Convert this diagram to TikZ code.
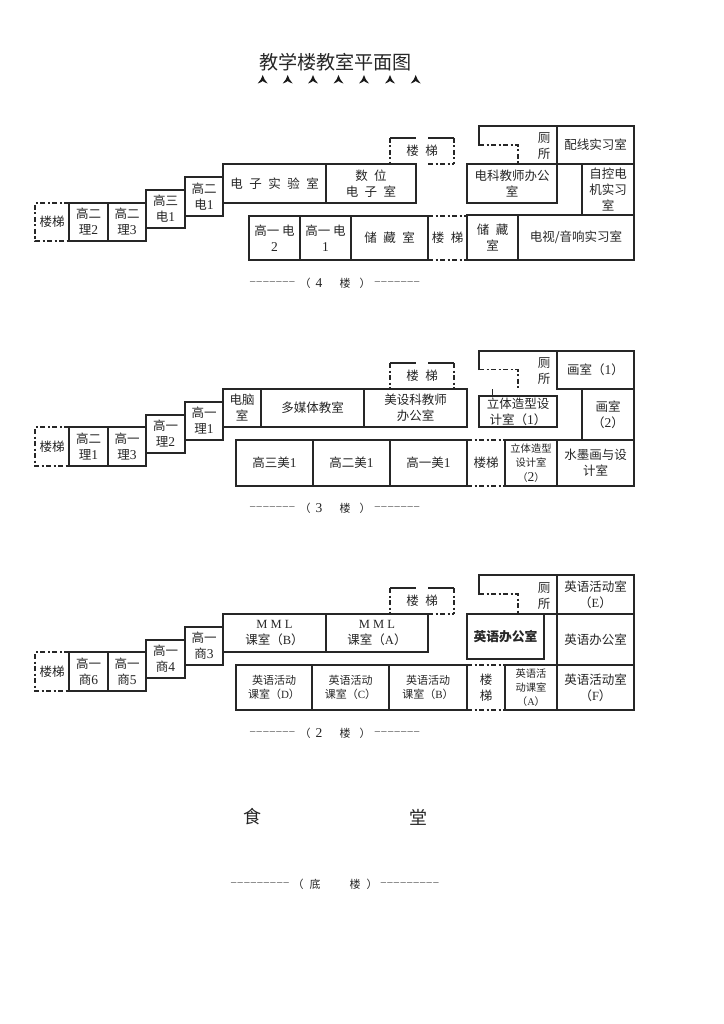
\documentclass[tikz,border=0pt]{standalone}
\usepackage{fontspec}
\setmainfont{Noto Sans CJK SC}
\newfontfamily\lat{Liberation Serif}
\tikzset{
  x=1pt,y=-1pt,
  wall/.style={line width=1.35pt,draw=black!85},
  dashwall/.style={line width=1.35pt,draw=black!85,dash pattern=on 5pt off 2.5pt on 2pt off 2.5pt},
  lab/.style={font=\fontsize{12.5}{16}\selectfont,align=center,inner sep=0pt,text=black!85},
  small/.style={font=\fontsize{11}{14.2}\selectfont,align=center,inner sep=0pt,text=black!85},
  tiny/.style={font=\fontsize{10.3}{14.2}\selectfont,align=center,inner sep=0pt,text=black!85},
  boldlab/.style={font=\fontsize{12.8}{16}\selectfont\bfseries,align=center,inner sep=0pt,text=black!85},
  captext/.style={font=\fontsize{11}{14}\selectfont,inner sep=0pt,text=black!85},
  rulertext/.style={font=\fontsize{10.5}{14}\selectfont\lat,inner sep=0pt,text=black!80}
}
\newcommand{\gp}{\hspace{6.5pt}}
\newcommand{\dg}[1]{{\fontsize{13.5}{16}\selectfont\lat #1}}
\newcommand{\dr}{–\kern1.3pt}
% optional style, name, x1, y1, x2, y2, text
\newcommand{\room}[7][lab]{%
  \draw[wall] (#3,#4) rectangle (#5,#6);
  \node[#1] (#2) at ({(#3+#5)/2},{(#4+#6)/2}) {#7};}
\newcommand{\tagtext}[4][lab]{\node[#1] (#2) at (#3) {#4};}
\newcommand{\chev}[1]{\fill[black!90] (#1,75) .. controls (#1+0.8,78) and (#1+2.5,81) .. (#1+5,83.5) .. controls (#1+3,82.8) and (#1+1,82) .. (#1,81) .. controls (#1-1,82) and (#1-3,82.8) .. (#1-5,83.5) .. controls (#1-2.5,81) and (#1-0.8,78) .. (#1,75) -- cycle;}
\newcommand{\floorcap}[3]{%
  \node[rulertext,anchor=west] (#1a) at (250,#2) {\dr\dr\dr\dr\dr\dr\dr};
  \node[captext] (#1b) at (305,#2) {（};
  \node[captext] (#1c) at (319,#2) {\dg{#3}};
  \node[captext] (#1d) at (345,#2) {楼};
  \node[captext] (#1e) at (365,#2) {）};
  \node[rulertext,anchor=east] (#1f) at (421,#2) {\dr\dr\dr\dr\dr\dr\dr};}
\begin{document}
\begin{tikzpicture}
\useasboundingbox (0,0) rectangle (723,1024);
\fill[white] (0,0) rectangle (723,1024);
% title
\node[font=\fontsize{19.1}{20}\selectfont,inner sep=0pt,text=black!85] (title) at (335.5,62.5) {教学楼教室平面图};
\foreach \m in {262.7,287.7,313,338.5,364,390,415.7} {\chev{\m}}

% ================= 4F
\draw[dashwall] (69,203) -- (35,203) -- (35,241) -- (69,241);
\tagtext{s4a}{52,222}{楼梯}
\room{a1}{69}{203}{108}{241}{高二\\理\dg{2}}
\room{a2}{108}{203}{146}{241}{高二\\理\dg{3}}
\room{a3}{146}{190}{185}{228}{高三\\电\dg{1}}
\room{a4}{185}{177}{223}{216}{高二\\电\dg{1}}
\room{a5}{223}{164}{326}{203}{电\gp 子\gp 实\gp 验\gp 室}
\room{a6}{326}{164}{416}{203}{数\gp 位\\电\gp 子\gp 室}
% top stairs
\draw[wall] (390,138) -- (416,138) (428,138) -- (454,138);
\draw[dashwall] (390,138) -- (390,164) (454,138) -- (454,164) (428,164) -- (454,164);
\tagtext{s4b}{422,151}{楼\gp 梯}
% toilet
\draw[wall] (479,146) -- (479,126) -- (557,126) -- (557,164);
\draw[dashwall] (479,145) -- (518,145) -- (518,164);
\tagtext{t4}{544,146}{厕\\所}
\room{a7}{557}{126}{634}{164}{配线实习室}
\room{a8}{467}{164}{557}{203}{电科教师办公\\室}
\room{a9}{582}{164}{634}{215}{自控电\\机实习\\室}
\draw[wall] (557,164) -- (582,164);
% lower
\room{b1}{249}{216}{300}{260}{高一 电\\\dg{2}}
\room{b2}{300}{216}{351}{260}{高一 电\\\dg{1}}
\room{b3}{351}{216}{428}{260}{储\gp 藏\gp 室}
\draw[dashwall] (428,216) -- (467,216) (428,260) -- (467,260);
\tagtext{s4c}{447.5,238}{楼\gp 梯}
\room{b4}{467}{215}{518}{260}{储\gp 藏\\室}
\room{b5}{518}{215}{634}{260}{电视/音响实习室}
\floorcap{f4}{283}{4}

% ================= 3F
\draw[dashwall] (69,427) -- (35,427) -- (35,466) -- (69,466);
\tagtext{s3a}{52,447}{楼梯}
\room{c1}{69}{427}{108}{466}{高二\\理\dg{1}}
\room{c2}{108}{427}{146}{466}{高一\\理\dg{3}}
\room{c3}{146}{415}{185}{453}{高一\\理\dg{2}}
\room{c4}{185}{402}{223}{440}{高一\\理\dg{1}}
\room{c5}{223}{389}{261}{427}{电脑\\室}
\room{c6}{261}{389}{364}{427}{多媒体教室}
\room{c7}{364}{389}{467}{427}{美设科教师\\办公室}
\draw[wall] (390,363) -- (416,363) (428,363) -- (454,363);
\draw[dashwall] (390,363) -- (390,389) (454,363) -- (454,389);
\tagtext{s3b}{422,376}{楼\gp 梯}
\draw[wall] (479,370) -- (479,351) -- (557,351) -- (557,389);
\draw[dashwall] (479,369.5) -- (518,369.5) -- (518,389);
\tagtext{t3}{544,371}{厕\\所}
\room{c8}{557}{351}{634}{389}{画室（\dg{1}）}
\draw[wall] (492.5,389) -- (492.5,396);
\room{c9}{479}{396}{557}{427}{立体造型设\\计室（\dg{1}）}
\room{c10}{582}{389}{634}{440}{画室\\（\dg{2}）}
\draw[wall] (557,389) -- (582,389);
\room{d1}{236}{440}{313}{486}{高三美\dg{1}}
\room{d2}{313}{440}{390}{486}{高二美\dg{1}}
\room{d3}{390}{440}{467}{486}{高一美\dg{1}}
\draw[dashwall] (467,440) -- (505,440) (467,486) -- (505,486);
\tagtext{s3c}{486,463}{楼梯}
\room[tiny]{d4}{505}{440}{557}{486}{立体造型\\设计室\\（\dg{2}）}
\room{d5}{557}{440}{634}{486}{水墨画与设\\计室}
\floorcap{f3}{508}{3}

% ================= 2F
\draw[dashwall] (69,652) -- (35,652) -- (35,691) -- (69,691);
\tagtext{s2a}{52,672}{楼梯}
\room{e1}{69}{652}{108}{691}{高一\\商\dg{6}}
\room{e2}{108}{652}{146}{691}{高一\\商\dg{5}}
\room{e3}{146}{640}{185}{678}{高一\\商\dg{4}}
\room{e4}{185}{627}{223}{665}{高一\\商\dg{3}}
\room{e5}{223}{614}{326}{652}{{\lat M M L}\\课室（{\lat B}）}
\room{e6}{326}{614}{428}{652}{{\lat M M L}\\课室（{\lat A}）}
\draw[wall] (390,588) -- (416,588) (428,588) -- (454,588);
\draw[dashwall] (390,588) -- (390,614) (454,588) -- (454,614) (428,614) -- (454,614);
\tagtext{s2b}{422,601}{楼\gp 梯}
\draw[wall] (479,595) -- (479,575) -- (557,575) -- (557,614);
\draw[dashwall] (479,594) -- (518,594) -- (518,614);
\tagtext{t2}{544,596}{厕\\所}
\room{e7}{557}{575}{634}{614}{英语活动室\\（{\lat E}）}
\room[boldlab]{e8}{467}{614}{544}{659}{英语办公室}
\room{e9}{557}{614}{634}{665}{英语办公室}
\draw[wall] (544,614) -- (557,614);
\room[small]{g1}{236}{665}{312}{710}{英语活动\\课室（{\lat D}）}
\room[small]{g2}{312}{665}{389}{710}{英语活动\\课室（{\lat C}）}
\room[small]{g3}{389}{665}{467}{710}{英语活动\\课室（{\lat B}）}
\draw[dashwall] (467,665) -- (505,665) (467,710) -- (505,710);
\tagtext{s2c}{486,688}{楼\\梯}
\room[tiny]{g4}{505}{665}{557}{710}{英语活\\动课室\\（{\lat A}）}
\room{g5}{557}{665}{634}{710}{英语活动室\\（{\lat F}）}
\floorcap{f2}{733}{2}

% ================= ground
\node[font=\fontsize{18}{20}\selectfont,inner sep=0pt,text=black!85] (sh) at (252,817) {食};
\node[font=\fontsize{18}{20}\selectfont,inner sep=0pt,text=black!85] (tang) at (418,817) {堂};
\node[rulertext,anchor=west] (g1a) at (231,884) {\dr\dr\dr\dr\dr\dr\dr\dr\dr};
\node[captext] (g1b) at (298,884) {（};
\node[captext] (g1c) at (315,884) {底};
\node[captext] (g1d) at (355,884) {楼};
\node[captext] (g1e) at (372,884) {）};
\node[rulertext,anchor=east] (g1f) at (440,884) {\dr\dr\dr\dr\dr\dr\dr\dr\dr};
\end{tikzpicture}
\end{document}
